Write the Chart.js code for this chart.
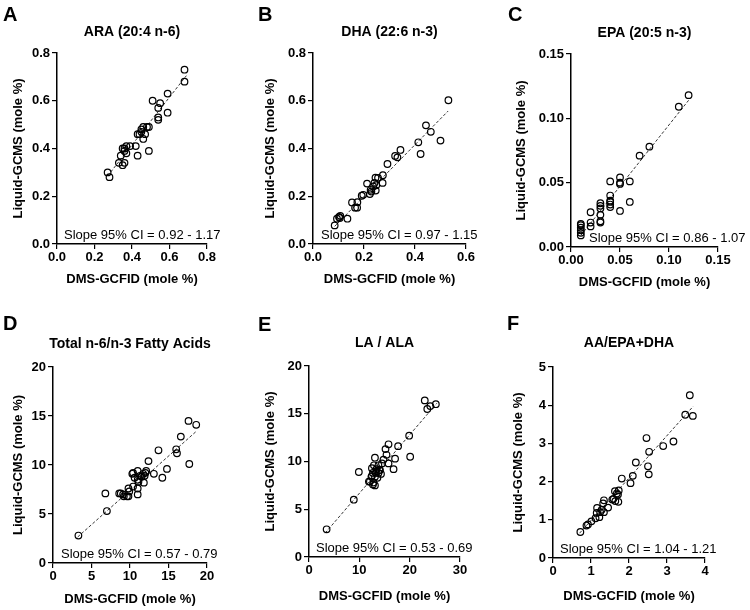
<!DOCTYPE html>
<html>
<head>
<meta charset="utf-8">
<script src="https://cdn.jsdelivr.net/npm/chart.js@4.4.0/dist/chart.umd.min.js"></script>
<style>
  body { margin: 0; background: #fff; }
  #wrap { position: relative; width: 750px; height: 610px; background: #fff; }
  canvas { position: absolute; }
</style>
</head>
<body>
<div id="wrap">
  <canvas id="panelA" width="250" height="290" style="left:0px;top:0px"></canvas>
  <canvas id="panelB" width="250" height="290" style="left:250px;top:0px"></canvas>
  <canvas id="panelC" width="250" height="290" style="left:500px;top:0px"></canvas>
  <canvas id="panelD" width="250" height="310" style="left:0px;top:300px"></canvas>
  <canvas id="panelE" width="250" height="310" style="left:250px;top:300px"></canvas>
  <canvas id="panelF" width="250" height="310" style="left:500px;top:300px"></canvas>
</div>
<script>
// ---- data ----
const xTitle = 'DMS-GCFID (mole %)';
const yTitle = 'Liquid-GCMS (mole %)';

// A: ARA
const araTitle = 'ARA (20:4 n-6)';
const araX = [0.27,0.28,0.33,0.35,0.36,0.34,0.36,0.37,0.36,0.37,0.35,0.39,0.42,0.43,0.49,0.43,0.44,0.46,0.47,0.45,0.46,0.48,0.49,0.45,0.51,0.54,0.55,0.54,0.54,0.59,0.59,0.68,0.68];
const araY = [0.30,0.28,0.34,0.33,0.34,0.37,0.39,0.41,0.40,0.38,0.40,0.41,0.41,0.37,0.39,0.46,0.46,0.44,0.46,0.48,0.49,0.49,0.49,0.47,0.60,0.57,0.59,0.53,0.52,0.63,0.55,0.73,0.68];
const araFitX = [0.27, 0.69];
const araFitY = [0.285, 0.705];
const araXTicks = [0, 0.8, 0.2];
const araYTicks = [0, 0.8, 0.2];
const araCI = [0.92, 1.17];

// B: DHA
const dhaTitle = 'DHA (22:6 n-3)';
const dhaX = [0.085,0.094,0.102,0.107,0.105,0.135,0.153,0.165,0.173,0.174,0.191,0.197,0.212,0.223,0.226,0.229,0.236,0.241,0.245,0.246,0.255,0.248,0.273,0.274,0.292,0.322,0.331,0.343,0.413,0.422,0.443,0.462,0.500,0.531];
const dhaY = [0.078,0.106,0.113,0.118,0.109,0.106,0.174,0.152,0.152,0.175,0.202,0.206,0.253,0.209,0.227,0.220,0.241,0.256,0.278,0.224,0.277,0.246,0.256,0.288,0.335,0.369,0.363,0.394,0.426,0.377,0.497,0.470,0.433,0.602];
const dhaFitX = [0.085, 0.53];
const dhaFitY = [0.074, 0.557];
const dhaXTicks = [0, 0.6, 0.2];
const dhaYTicks = [0, 0.8, 0.2];
const dhaCI = [0.97, 1.15];

// C: EPA
const epaTitle = 'EPA (20:5 n-3)';
const epaX = [0.01,0.01,0.01,0.01,0.01,0.01,0.02,0.02,0.02,0.03,0.03,0.03,0.03,0.03,0.03,0.04,0.04,0.04,0.04,0.04,0.04,0.05,0.05,0.05,0.05,0.06,0.06,0.07,0.08,0.11,0.12];
const epaY = [0.009,0.011,0.013,0.015,0.017,0.018,0.027,0.019,0.016,0.034,0.032,0.030,0.025,0.020,0.019,0.051,0.040,0.036,0.035,0.033,0.031,0.054,0.050,0.049,0.028,0.051,0.035,0.071,0.078,0.109,0.118];
const epaFitX = [0.01, 0.12];
const epaFitY = [0.009, 0.114];
const epaXTicks = [0, 0.15, 0.05];
const epaYTicks = [0, 0.15, 0.05];
const epaCI = [0.86, 1.07];

// D: total n-6/n-3
const totTitle = 'Total n-6/n-3 Fatty Acids';
const totX = [3.3,6.8,7.0,8.6,8.8,9.1,9.2,9.6,9.8,9.9,9.8,10.4,10.3,10.4,10.6,11.0,11.0,11.0,11.0,11.1,11.3,11.5,11.7,11.8,11.9,12.1,12.0,12.4,13.1,13.7,14.2,14.8,16.0,16.1,16.6,17.7,17.6,18.6];
const totY = [2.8,7.1,5.3,7.1,7.1,7.0,6.8,6.8,6.8,7.3,7.6,7.8,9.1,9.2,8.7,9.4,8.5,7.6,7.0,8.3,8.9,8.8,9.1,8.2,8.9,9.4,9.2,10.4,9.1,11.5,8.7,9.6,11.6,11.2,12.9,10.1,14.5,14.1];
const totFitX = [3.2, 18.7];
const totFitY = [2.65, 13.5];
const totXTicks = [0, 20, 5];
const totYTicks = [0, 20, 5];
const totCI = [0.57, 0.79];

// E: LA / ALA
const laTitle = 'LA / ALA';
const laX = [3.5,8.9,9.9,11.9,12.1,12.4,12.5,12.5,12.7,12.7,12.8,13.1,12.9,13.1,13.1,13.3,13.4,13.6,13.8,13.8,14.0,14.1,14.3,14.5,14.8,15.2,15.4,15.8,15.8,16.8,17.1,17.7,19.9,20.1,23.0,23.5,24.1,25.2];
const laY = [2.9,6.0,8.9,7.9,7.9,8.4,8.5,9.3,8.8,7.6,7.8,7.5,9.6,10.4,8.4,8.8,9.2,8.3,9.6,8.8,9.1,9.1,8.7,9.8,10.2,11.3,10.7,11.8,9.8,9.2,10.3,11.6,12.7,10.5,16.4,15.5,15.8,16.0];
const laFitX = [3.2, 25.4];
const laFitY = [2.5, 16.1];
const laXTicks = [0, 30, 10];
const laYTicks = [0, 20, 5];
const laCI = [0.53, 0.69];

// F: AA/EPA+DHA
const aaTitle = 'AA/EPA+DHA';
const aaX = [0.72,0.88,0.92,1.01,1.12,1.16,1.15,1.22,1.24,1.28,1.32,1.34,1.34,1.45,1.56,1.59,1.63,1.64,1.68,1.71,1.72,1.73,1.81,2.04,2.10,2.18,2.46,2.50,2.52,2.53,2.90,3.17,3.48,3.60,3.68];
const aaY = [0.68,0.85,0.88,0.96,1.04,1.31,1.18,1.07,1.20,1.26,1.43,1.51,1.20,1.32,1.53,1.55,1.75,1.49,1.69,1.66,1.47,1.77,2.08,1.96,2.15,2.50,3.14,2.40,2.19,2.78,2.93,3.05,3.75,4.26,3.72];
const aaFitX = [0.7, 3.69];
const aaFitY = [0.65, 3.97];
const aaXTicks = [0, 4, 1];
const aaYTicks = [0, 5, 1];
const aaCI = [1.04, 1.21];

// ---- layout (page pixels) ----
const FONT = "'Liberation Sans', Arial, Helvetica, sans-serif";
const TITLE_HALF = 7.8; // half line height of 13px axis titles

const layout = {
  panelA: { cx: 0,   cy: 0,   cw: 250, ch: 290, l: 57,  t: 53,  r: 207, b: 244, yT: 18,  xT: 279, titleY: 32,  lx: 3,   ly: 21,  ciDx: 7 },
  panelB: { cx: 250, cy: 0,   cw: 250, ch: 290, l: 313, t: 53,  r: 466, b: 244, yT: 270, xT: 279, titleY: 32,  lx: 258, ly: 21,  ciDx: 8 },
  panelC: { cx: 500, cy: 0,   cw: 250, ch: 290, l: 571, t: 54,  r: 718, b: 247, yT: 521, xT: 282, titleY: 33,  lx: 508, ly: 21,  ciDx: 18 },
  panelD: { cx: 0,   cy: 300, cw: 250, ch: 310, l: 53,  t: 367, r: 207, b: 563, yT: 18,  xT: 599, titleY: 344, lx: 3,   ly: 330, ciDx: 8 },
  panelE: { cx: 250, cy: 300, cw: 250, ch: 310, l: 309, t: 366, r: 460, b: 557, yT: 270, xT: 596, titleY: 343, lx: 258, ly: 331, ciDx: 7 },
  panelF: { cx: 500, cy: 300, cw: 250, ch: 310, l: 553, t: 367, r: 705, b: 558, yT: 518, xT: 596, titleY: 343, lx: 507, ly: 330, ciDx: 7 }
};

const panels = [
  { id: 'panelA', letter: 'A', title: araTitle, xs: araX, ys: araY, fx: araFitX, fy: araFitY, xt: araXTicks, yt: araYTicks, dec: 1, ci: araCI },
  { id: 'panelB', letter: 'B', title: dhaTitle, xs: dhaX, ys: dhaY, fx: dhaFitX, fy: dhaFitY, xt: dhaXTicks, yt: dhaYTicks, dec: 1, ci: dhaCI },
  { id: 'panelC', letter: 'C', title: epaTitle, xs: epaX, ys: epaY, fx: epaFitX, fy: epaFitY, xt: epaXTicks, yt: epaYTicks, dec: 2, ci: epaCI },
  { id: 'panelD', letter: 'D', title: totTitle, xs: totX, ys: totY, fx: totFitX, fy: totFitY, xt: totXTicks, yt: totYTicks, dec: 0, ci: totCI },
  { id: 'panelE', letter: 'E', title: laTitle,  xs: laX,  ys: laY,  fx: laFitX,  fy: laFitY,  xt: laXTicks,  yt: laYTicks,  dec: 0, ci: laCI },
  { id: 'panelF', letter: 'F', title: aaTitle,  xs: aaX,  ys: aaY,  fx: aaFitX,  fy: aaFitY,  xt: aaXTicks,  yt: aaYTicks,  dec: 0, ci: aaCI }
];

// letter, panel title and the CI note
const panelText = {
  id: 'panelText',
  afterDraw(chart, args, o) {
    const ctx = chart.ctx;
    const a = chart.chartArea;
    ctx.save();
    ctx.fillStyle = '#000';
    ctx.font = 'bold 20px ' + FONT;
    ctx.textAlign = 'left';
    ctx.textBaseline = 'alphabetic';
    ctx.fillText(o.letter, o.lx, o.ly);
    ctx.font = 'bold 14px ' + FONT;
    ctx.textAlign = 'center';
    ctx.textBaseline = 'middle';
    ctx.fillText(o.title, (a.left + a.right) / 2, o.titleY);
    ctx.font = '13px ' + FONT;
    ctx.textAlign = 'left';
    ctx.fillText(o.ci, a.left + o.ciDx, a.bottom - 8.5);
    ctx.restore();
  }
};

function axis(t, dec, size, horizontal, text, pad) {
  return {
    type: 'linear',
    min: t[0], max: t[1],
    ticks: {
      stepSize: t[2], color: '#000', autoSkip: false, maxRotation: 0,
      padding: horizontal ? 1 : 2,
      font: { family: FONT, size: 13, weight: 'bold' },
      callback: v => Number(v).toFixed(dec)
    },
    grid: { display: true, drawOnChartArea: false, drawTicks: true, tickLength: 5, color: '#000', lineWidth: 1.2 },
    border: { display: true, color: '#000', width: 1.5 },
    title: {
      display: true, text: text, color: '#000',
      font: { family: FONT, size: 13, weight: 'bold' },
      padding: horizontal ? { top: 0, bottom: pad } : { top: pad, bottom: 0 }
    },
    afterFit: s => { if (horizontal) s.height = size; else s.width = size; }
  };
}

panels.forEach(p => {
  const g = layout[p.id];
  new Chart(document.getElementById(p.id), {
    type: 'scatter',
    data: {
      datasets: [
        {
          data: p.fx.map((x, i) => ({ x: x, y: p.fy[i] })),
          showLine: true, borderColor: '#000', borderWidth: 0.8, borderDash: [3, 2],
          pointRadius: 0, fill: false, order: 2
        },
        {
          data: p.xs.map((x, i) => ({ x: x, y: p.ys[i] })),
          pointRadius: 3.3, pointBorderWidth: 1.2,
          pointBorderColor: '#000', pointBackgroundColor: 'rgba(255,255,255,0)',
          order: 1
        }
      ]
    },
    options: {
      responsive: false,
      animation: false,
      devicePixelRatio: 1,
      layout: { padding: { left: 0, top: g.t - g.cy, right: g.cx + g.cw - g.r, bottom: 0 } },
      scales: {
        x: axis(p.xt, p.dec, g.cy + g.ch - g.b, true, xTitle, g.cy + g.ch - g.xT - TITLE_HALF),
        y: axis(p.yt, p.dec, g.l - g.cx, false, yTitle, g.yT - g.cx - TITLE_HALF)
      },
      plugins: {
        legend: { display: false },
        tooltip: { enabled: false },
        panelText: {
          letter: p.letter, lx: g.lx - g.cx, ly: g.ly - g.cy,
          title: p.title, titleY: g.titleY - g.cy,
          ci: 'Slope 95% CI = ' + p.ci[0].toFixed(2) + ' - ' + p.ci[1].toFixed(2),
          ciDx: g.ciDx
        }
      }
    },
    plugins: [panelText]
  });
});
</script>
</body>
</html>
